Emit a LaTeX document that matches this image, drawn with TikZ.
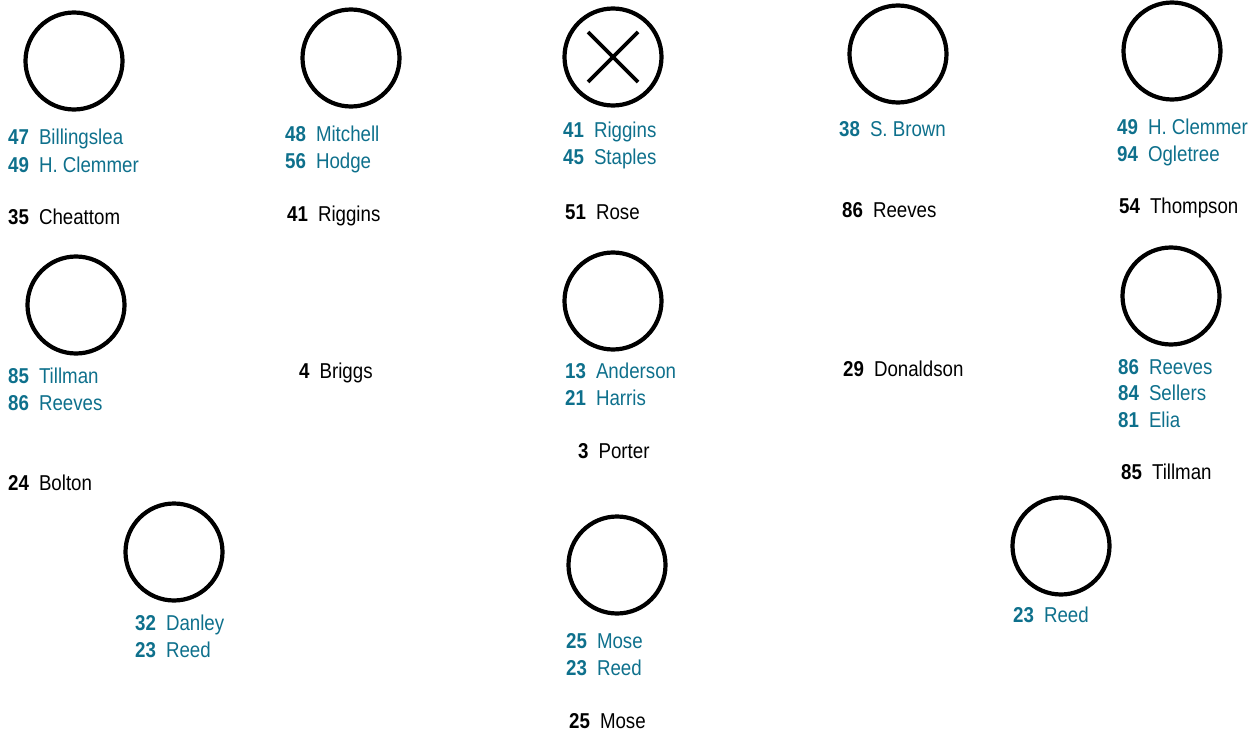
\documentclass[tikz,border=0pt]{standalone}
\usepackage{fontspec}
\setmainfont[FakeStretch=0.87]{Liberation Sans}
\definecolor{tealc}{RGB}{14,112,140}
\newcommand{\pl}[2]{\textbf{#1}\hspace{10pt}#2}
\tikzset{
  ring/.style={circle, draw=black, line width=4.2pt, minimum size=97pt, inner sep=0pt},
  lab/.style={anchor=base west, inner sep=0pt, font=\fontsize{21.5}{26}\selectfont},
  tl/.style={lab, text=tealc},
  bl/.style={lab, text=black}
}
\begin{document}
\begin{tikzpicture}[x=1pt,y=-1pt]
\useasboundingbox (0,0) rectangle (1259,733);
% circles
\node[ring] (c1) at (74,61) {};
\node[ring] (c2) at (351,58) {};
\node[ring] (c3) at (613,57) {};
\node[ring] (c4) at (898,54) {};
\node[ring] (c5) at (1172,51) {};
\node[ring] (c6) at (76,305) {};
\node[ring] (c7) at (613,301) {};
\node[ring] (c8) at (1171,296) {};
\node[ring] (c9) at (174,552) {};
\node[ring] (c10) at (617,565) {};
\node[ring] (c11) at (1061,546) {};
\draw[line width=3.6pt] ([shift={(-25,-25)}]c3.center) -- ([shift={(25,25)}]c3.center);
\draw[line width=3.6pt] ([shift={(25,-25)}]c3.center) -- ([shift={(-25,25)}]c3.center);
% column 1
\node[tl] (t1a) at (8,145) {\pl{47}{Billingslea}};
\node[tl] (t1b) at (8,172) {\pl{49}{H. Clemmer}};
\node[bl] (b1) at (8,225) {\pl{35}{Cheattom}};
\node[tl] (t6a) at (8,383) {\pl{85}{Tillman}};
\node[tl] (t6b) at (8,410) {\pl{86}{Reeves}};
\node[bl] (b6) at (8,490) {\pl{24}{Bolton}};
\node[tl] (t9a) at (135,630) {\pl{32}{Danley}};
\node[tl] (t9b) at (135,657) {\pl{23}{Reed}};
% column 2
\node[tl] (t2a) at (285,142) {\pl{48}{Mitchell}};
\node[tl] (t2b) at (285,168) {\pl{56}{Hodge}};
\node[bl] (b2) at (287,222) {\pl{41}{Riggins}};
\node[bl] (b2b) at (299,378) {\pl{4}{Briggs}};
% column 3
\node[tl] (t3a) at (563,138) {\pl{41}{Riggins}};
\node[tl] (t3b) at (563,165) {\pl{45}{Staples}};
\node[bl] (b3) at (565,219) {\pl{51}{Rose}};
\node[tl] (t7a) at (565,378) {\pl{13}{Anderson}};
\node[tl] (t7b) at (565,405) {\pl{21}{Harris}};
\node[bl] (b7) at (578,458) {\pl{3}{Porter}};
\node[tl] (t10a) at (566,648) {\pl{25}{Mose}};
\node[tl] (t10b) at (566,675) {\pl{23}{Reed}};
\node[bl] (b10) at (569,728) {\pl{25}{Mose}};
% column 4
\node[tl] (t4a) at (839,137) {\pl{38}{S. Brown}};
\node[bl] (b4) at (842,217) {\pl{86}{Reeves}};
\node[bl] (b4b) at (843,376) {\pl{29}{Donaldson}};
\node[tl] (t11a) at (1013,622) {\pl{23}{Reed}};
% column 5
\node[tl] (t5a) at (1117,135) {\pl{49}{H. Clemmer}};
\node[tl] (t5b) at (1117,162) {\pl{94}{Ogletree}};
\node[bl] (b5) at (1119,213) {\pl{54}{Thompson}};
\node[tl] (t8a) at (1118,374) {\pl{86}{Reeves}};
\node[tl] (t8b) at (1118,400) {\pl{84}{Sellers}};
\node[tl] (t8c) at (1118,427) {\pl{81}{Elia}};
\node[bl] (b8) at (1121,479) {\pl{85}{Tillman}};
\end{tikzpicture}
\end{document}
